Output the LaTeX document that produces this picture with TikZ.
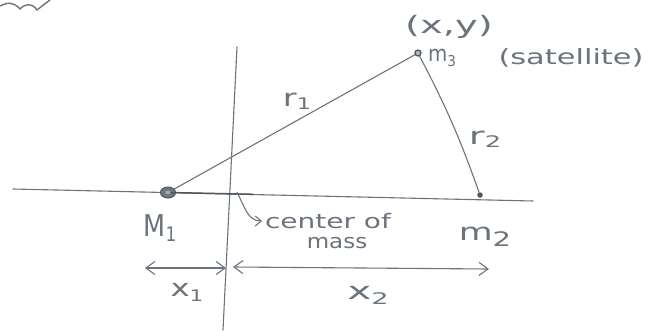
\documentclass[tikz,border=0pt]{standalone}
\usepackage{fontspec}
\setmainfont{DejaVu Sans}
\usetikzlibrary{arrows.meta,shapes.geometric}
\definecolor{pencil}{HTML}{6B737C}
\definecolor{pencildark}{HTML}{4E565F}
\newcommand{\hw}[3]{\fontsize{#1}{#1}\selectfont\scalebox{#2}[1]{#3}}
\newcommand{\sbs}[3]{\raisebox{#2}{\fontsize{#1}{#1}\selectfont #3}}
\begin{document}
\begin{tikzpicture}[x=1pt,y=-1pt,
  pline/.style={draw=pencil,line width=1.1pt,line cap=round},
  lbl/.style={text=pencil,inner sep=0pt,anchor=center},
  dimarrow/.style={pline,{Straight Barb[length=9pt,width=13pt]}-{Straight Barb[length=9pt,width=13pt]}}]
\useasboundingbox (0,0) rectangle (656,330);
\fill[white] (0,0) rectangle (656,330);
% cropped scribble at top-left
\draw[pline,line width=1.4pt] (0,6) .. controls (8,2) and (14,2) .. (20,9) .. controls (26,3) and (32,3) .. (37,10) .. controls (42,6) and (46,3) .. (50,0);
% coordinates
\coordinate (hl) at (13,189);
\coordinate (hr) at (533,201);
\coordinate (vt) at (237,47);
\coordinate (vb) at (223,330);
\coordinate (cm) at (237,192.5);
\coordinate (cmend) at (253,194.3);
\coordinate (cmtip) at (262,221);
% axes
\draw[pline] (hl) -- (hr);
\draw[pline] (vt) -- (vb);
% masses
\node[draw=pencildark,fill=pencildark!80,line width=1pt,ellipse,minimum width=15pt,minimum height=11pt,inner sep=0pt] (M1) at (168,192.5) {};
\draw[pline,draw=pencildark,line width=1.5pt] (M1.center) -- (cmend);
\fill[pencil!60] (168,192.5) ellipse (2.5 and 1.8);
\node[circle,draw=pencildark,line width=1.3pt,fill=pencil!50,minimum size=6pt,inner sep=0pt] (m3) at (418,53) {};
\node[circle,fill=pencildark,minimum size=5.5pt,inner sep=0pt] (m2) at (480,195) {};
% distances
\draw[pline] (M1) -- (m3);
\draw[pline] (m3) to[bend left=4] (m2);
% center of mass pointer
\draw[pline,-{Straight Barb[length=6pt,width=10pt]}] (cm) to[out=-60,in=180] (cmtip);
% dimension arrows
\coordinate (a1) at (145,268);
\coordinate (a2) at (226,268);
\coordinate (b1) at (233,267);
\coordinate (b2) at (489,269);
\draw[dimarrow] (a1) -- (a2);
\draw[dimarrow] (b1) -- (b2);
% labels
\node[lbl] (lxy) at (449,27) {\hw{24}{1.6}{(x,y)}};
\node[lbl] (lm3) at (442,58) {\hw{22}{0.9}{m\sbs{15}{-5pt}{3}}};
\node[lbl] (lsat) at (571,58) {\hw{21}{1.45}{(satellite)}};
\node[lbl] (lr1) at (297,101) {\hw{24}{1.4}{r\sbs{16}{-3pt}{1}}};
\node[lbl] (lr2) at (485,139) {\hw{24}{1.6}{r\sbs{16}{-3pt}{2}}};
\node[lbl] (lM1) at (160,228) {\hw{30}{0.85}{M\sbs{20}{-5pt}{1}}};
\node[lbl] (lcen) at (328,221) {\hw{20}{1.4}{center of}};
\node[lbl] (lmass) at (337,243) {\hw{20}{1.15}{mass}};
\node[lbl] (lm2) at (485,237) {\hw{24}{1.45}{m\sbs{20}{-6pt}{2}}};
\node[lbl] (lx1) at (187,292) {\hw{24}{1.35}{x\sbs{16}{-5pt}{1}}};
\node[lbl] (lx2) at (368,295) {\hw{24}{1.7}{x\sbs{16}{-5pt}{2}}};
\end{tikzpicture}
\end{document}
